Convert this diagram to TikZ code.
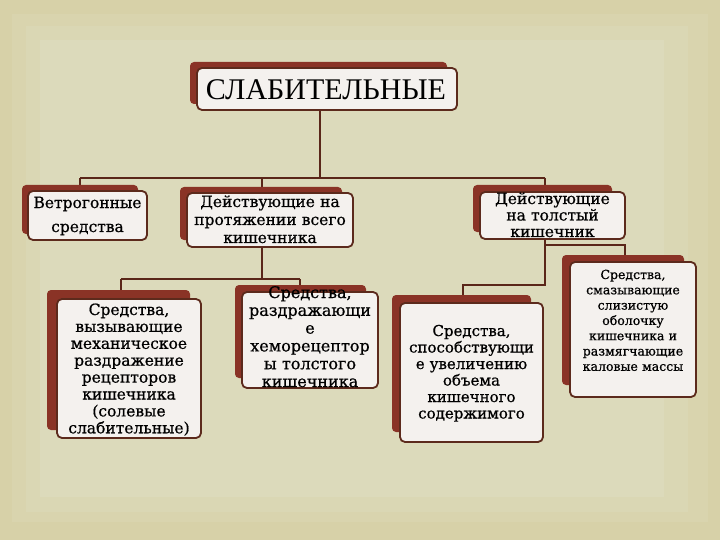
\documentclass[tikz,border=0pt]{standalone}
\usepackage{fontspec}
\setmainfont{DejaVu Serif}
\newfontfamily\bodyfont[FakeBold=0.7]{DejaVu Serif}
\newfontfamily\titlefont{Liberation Serif}
\usetikzlibrary{calc}
\pgfdeclarelayer{back}
\pgfdeclarelayer{mid}
\pgfsetlayers{back,mid,main}
\definecolor{bgA}{HTML}{D7D1A8}
\definecolor{bgB}{HTML}{D9D4AE}
\definecolor{bgC}{HTML}{DAD7B4}
\definecolor{bgD}{HTML}{DCDABB}
\definecolor{shred}{HTML}{8A3326}
\definecolor{bline}{HTML}{5C2A1C}
\definecolor{bfill}{HTML}{F4F1EE}
\definecolor{conn}{HTML}{5A2619}
\tikzset{
  shbox/.style={fill=shred, rounded corners=4pt, inner sep=0pt},
  mbox/.style={fill=bfill, draw=bline, line width=1.8pt, rounded corners=5pt, inner sep=0pt},
  txt/.style={align=center, inner sep=0pt, anchor=base, text=black},
  link/.style={draw=conn, line width=2pt}
}
\begin{document}
\begin{tikzpicture}[x=1pt,y=-1pt]
\useasboundingbox (0,0) rectangle (720,540);
\begin{pgfonlayer}{back}
\fill[bgA] (0,0) rectangle (720,540);
\fill[bgB] (12,14) rectangle (708,522);
\fill[bgC] (26,26) rectangle (688,512);
\fill[bgD] (40,40) rectangle (664,497);
\end{pgfonlayer}

% top
\node[shbox, minimum width=257pt, minimum height=42pt] (sT) at (318.5,83) {};
\node[mbox, minimum width=260pt, minimum height=42pt] (T) at (327,89) {};
\node[txt, font=\titlefont\fontsize{30}{32}\selectfont] at (326,100) {СЛАБИТЕЛЬНЫЕ};

% level 2
\node[shbox, minimum width=116pt, minimum height=49pt] (sA) at (80,209.5) {};
\node[mbox, minimum width=119pt, minimum height=49pt] (A) at (87.5,215.5) {};
\node[txt, text width=130pt, font=\bodyfont\fontsize{15.5}{24}\selectfont] at (87.5,208) {Ветрогонные\\средства};

\node[shbox, minimum width=162pt, minimum height=53pt] (sB) at (261,213.5) {};
\node[mbox, minimum width=166pt, minimum height=54pt] (B) at (270,220) {};
\node[txt, text width=170pt, font=\bodyfont\fontsize{15.5}{18}\selectfont] at (270,207) {Действующие на\\протяжении всего\\кишечника};

\node[shbox, minimum width=139pt, minimum height=47pt] (sC) at (542.5,208.5) {};
\node[mbox, minimum width=145pt, minimum height=47pt] (C) at (552.5,215.5) {};
\node[txt, text width=150pt, font=\bodyfont\fontsize{15.5}{16.5}\selectfont] at (552.5,204) {Действующие\\на толстый\\кишечник};

% level 3
\node[shbox, minimum width=143pt, minimum height=140pt] (sD) at (118.5,360) {};
\node[mbox, minimum width=144pt, minimum height=139pt] (D) at (129,368.5) {};
\node[txt, text width=150pt, font=\bodyfont\fontsize{15.5}{16.9}\selectfont] at (129,315) {Средства,\\вызывающие\\механическое\\раздражение\\рецепторов\\кишечника\\(солевые\\слабительные)};

\node[shbox, minimum width=131pt, minimum height=93pt] (sE) at (300.5,331.5) {};
\node[mbox, minimum width=136pt, minimum height=96pt] (E) at (310,340) {};
\node[txt, text width=150pt, font=\bodyfont\fontsize{16}{17.8}\selectfont] at (310,298) {Средства,\\раздражающи\\е\\хеморецептор\\ы толстого\\кишечника};

\node[shbox, minimum width=139pt, minimum height=137pt] (sF) at (461.5,363.5) {};
\node[mbox, minimum width=143pt, minimum height=139pt] (F) at (471.5,372.5) {};
\node[txt, text width=150pt, font=\bodyfont\fontsize{15}{16.5}\selectfont] at (471.5,336) {Средства,\\способствующи\\е увеличению\\объема\\кишечного\\содержимого};

\node[shbox, minimum width=122pt, minimum height=130pt] (sG) at (623,320) {};
\node[mbox, minimum width=126pt, minimum height=135pt] (G) at (633,329.5) {};
\node[txt, text width=130pt, font=\bodyfont\fontsize{12.5}{15.3}\selectfont] at (633,279) {Средства,\\смазывающие\\слизистую\\оболочку\\кишечника и\\размягчающие\\каловые массы};

% connectors
\coordinate (jT) at (320,178);
\coordinate (jA) at (80,178);
\coordinate (jB) at (262,178);
\coordinate (jC) at (545,178);
\coordinate (kB) at (262,279);
\coordinate (kD) at (121,279);
\coordinate (kE) at (300,279);
\coordinate (kC) at (545,285);
\coordinate (kF) at (463,285);
\coordinate (mC) at (545,245);
\coordinate (mG) at (625,245);
\begin{pgfonlayer}{mid}
\draw[link] (T.south -| jT) -- (jT);
\draw[link] (jA) -- (jC);
\draw[link] (jA) -- (sA.north -| jA);
\draw[link] (jB) -- (sB.north -| jB);
\draw[link] (jC) -- (sC.north -| jC);
\draw[link] (B.south -| kB) -- (kB);
\draw[link] (kD) -- (kE);
\draw[link] (kD) -- (sD.north -| kD);
\draw[link] (kE) -- (sE.north -| kE);
\draw[link] (C.south -| kC) -- (kC) -- (kF) -- (sF.north -| kF);
\draw[link] (mC) -- (mG) -- (sG.north -| mG);
\end{pgfonlayer}
\end{tikzpicture}
\end{document}
